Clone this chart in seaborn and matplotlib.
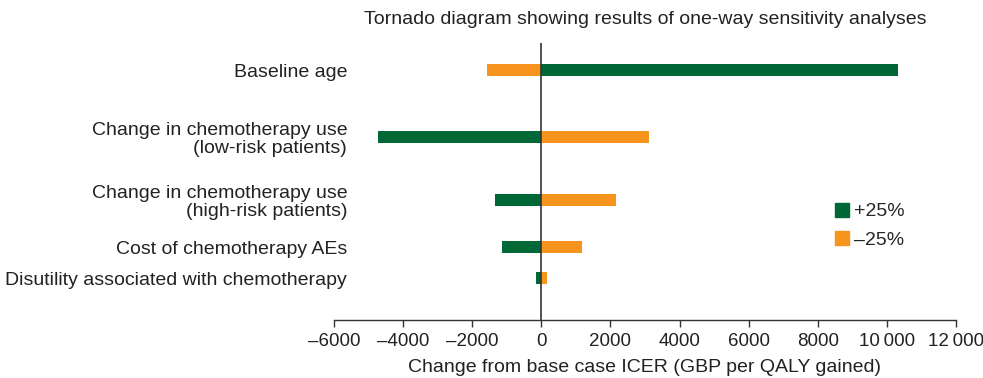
import pandas as pd
import matplotlib
matplotlib.use("Agg")
import matplotlib.pyplot as plt
import seaborn as sns
from matplotlib.ticker import FuncFormatter

# values
categories = [
    "Baseline age",
    "Change in chemotherapy use\n(low-risk patients)",
    "Change in chemotherapy use\n(high-risk patients)",
    "Cost of chemotherapy AEs",
    "Disutility associated with chemotherapy",
]
plus25 = [10330, -4720, -1330, -1130, -150]
minus25 = [-1560, 3120, 2170, 1180, 170]
series_names = ["+25%", "\u201325%"]
xticks = [-6000, -4000, -2000, 0, 2000, 4000, 6000, 8000, 10000, 12000]

# rows are not evenly spaced in the original
row_pos = [0, 66.5, 130, 177, 208]

df = pd.DataFrame({
    "category": categories * 2,
    "pos": row_pos * 2,
    "change": plus25 + minus25,
    "scenario": [series_names[0]] * 5 + [series_names[1]] * 5,
})

sns.set_style("white")
plt.rcParams["font.family"] = ["Liberation Sans", "DejaVu Sans"]
plt.rcParams["font.size"] = 14

fig = plt.figure(figsize=(9.83, 3.78), dpi=100)
ax = fig.add_axes([0.3398, 0.1534, 0.9725 - 0.3398, 0.8862 - 0.1534])

palette = {series_names[0]: "#006837", series_names[1]: "#f7941d"}
sns.barplot(data=df, x="change", y="pos", hue="scenario", orient="h",
            native_scale=True, dodge=False, palette=palette,
            width=12 / 31, ax=ax, saturation=1, legend=False, linewidth=0)

ax.axvline(0, color="#333333", lw=1.2, zorder=5)

ax.set_xlim(-6000, 12000)
ax.set_ylim(250, -27)
ax.set_yticks(row_pos)
ax.set_yticklabels(categories, linespacing=1.1, color="#222222")
ax.tick_params(axis="y", length=0, pad=-9.5)

def fmt(v, _):
    v = int(round(v))
    s = f"{abs(v):,}".replace(",", "\u2009") if abs(v) >= 10000 else str(abs(v))
    return ("\u2013" + s) if v < 0 else s

ax.set_xticks(xticks)
ax.xaxis.set_major_formatter(FuncFormatter(fmt))
ax.tick_params(axis="x", direction="out", length=5, width=1, color="#333333",
               labelcolor="#222222", bottom=True, pad=4, labelsize=13.5)

for side in ["top", "right", "left"]:
    ax.spines[side].set_visible(False)
ax.spines["bottom"].set_color("#333333")
ax.spines["bottom"].set_linewidth(1)

ax.set_xlabel("Change from base case ICER (GBP per QALY gained)", labelpad=7,
              color="#222222")
ax.set_ylabel("")
ax.set_title("Tornado diagram showing results of one-way sensitivity analyses",
             fontsize=14, pad=14, color="#222222")

handles = [plt.Line2D([], [], marker="s", ls="", color=palette[n], markersize=10)
           for n in series_names]
ax.legend(handles, series_names, loc="center left", bbox_to_anchor=(0.77, 0.34),
          frameon=False, handletextpad=0.0, labelspacing=0.55, handlelength=1.2,
          fontsize=14)

fig.savefig("out.png", dpi=100)
